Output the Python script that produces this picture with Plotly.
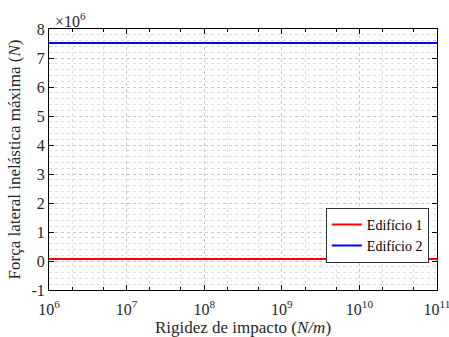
import plotly.graph_objects as go

# data
rigidez = [1e6, 1e7, 1e8, 1e9, 1e10, 1e11]          # N/m
forca_ed1 = [0.07, 0.07, 0.07, 0.07, 0.07, 0.07]    # x10^6 N
forca_ed2 = [7.52, 7.52, 7.52, 7.52, 7.52, 7.52]    # x10^6 N
series_names = ["Edifício 1", "Edifício 2"]
y_ticks = [-1, 0, 1, 2, 3, 4, 5, 6, 7, 8]
x_ticks = [1e6, 1e7, 1e8, 1e9, 1e10, 1e11]
x_ticktext = ["10<sup>6</sup>", "10<sup>7</sup>", "10<sup>8</sup>", "10<sup>9</sup>",
              "10<sup>10</sup>", "10<sup>11</sup>"]

FONT = "Liberation Serif"

fig = go.Figure()
fig.add_trace(go.Scatter(x=rigidez, y=forca_ed1, mode="lines", name=series_names[0],
                         line=dict(color="#ff0000", width=2)))
fig.add_trace(go.Scatter(x=rigidez, y=forca_ed2, mode="lines", name=series_names[1],
                         line=dict(color="#0000ff", width=2)))

grid_color = "#c8c8c8"
fig.update_xaxes(
    type="log", range=[6, 11], tickvals=x_ticks, ticktext=x_ticktext,
    showline=True, linecolor="black", linewidth=1, mirror="allticks",
    ticks="inside", ticklen=5, tickcolor="black",
    showgrid=True, gridcolor=grid_color, griddash="dot", gridwidth=1,
    minor=dict(ticks="inside", ticklen=3, tickcolor="black", showgrid=True,
               gridcolor="#dcdcdc", griddash="dot", gridwidth=1),
    zeroline=False,
    ticklabeloverflow="allow",
    ticklabelstandoff=5,
    tickfont=dict(family=FONT, size=16, color="#262626"),
    title=dict(text="Rigidez de impacto (<i>N/m</i>)", font=dict(family=FONT, size=17, color="#262626"),
               standoff=1),
)
fig.update_yaxes(
    range=[-1, 8], tickvals=y_ticks, ticktext=[str(v) for v in y_ticks],
    showline=True, linecolor="black", linewidth=1, mirror="allticks",
    ticks="inside", ticklen=5, tickcolor="black",
    showgrid=True, gridcolor=grid_color, griddash="dot", gridwidth=1,
    minor=dict(dtick=0.2, ticks="", showgrid=True, gridcolor="#dcdcdc", griddash="dot", gridwidth=1),
    zeroline=False,
    tickfont=dict(family=FONT, size=16, color="#262626"),
    title=dict(text="Força lateral inelástica máxima (<i>N</i>)", font=dict(family=FONT, size=17, color="#262626"),
               standoff=6),
)

fig.add_annotation(xref="paper", yref="paper", x=0.0, y=1.0, xanchor="left", yanchor="bottom",
                   text="×10<sup>6</sup>", showarrow=False, xshift=4, yshift=-3,
                   font=dict(family=FONT, size=16, color="#262626"))

fig.update_layout(
    width=449, height=337,
    margin=dict(l=49, r=12, t=29, b=47, autoexpand=False),
    paper_bgcolor="white", plot_bgcolor="white",
    font=dict(family=FONT),
    showlegend=True,
    legend=dict(x=0.979, y=0.315, xanchor="right", yanchor="top",
                bgcolor="white", bordercolor="#333333", borderwidth=1,
                font=dict(family=FONT, size=14, color="black"),
                tracegroupgap=0, itemwidth=30),
)

fig.write_html("out.html")
